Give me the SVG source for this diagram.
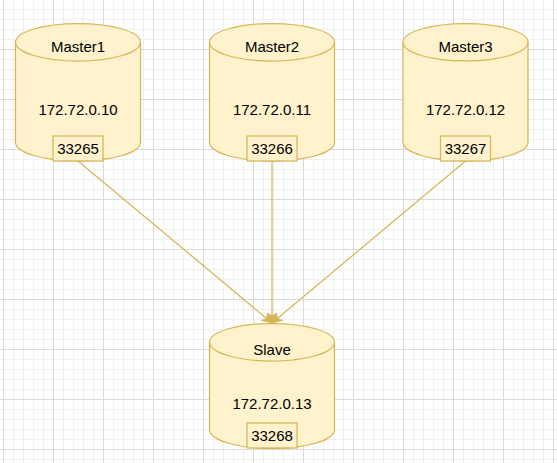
<svg xmlns="http://www.w3.org/2000/svg" width="557" height="463" viewBox="0 0 557 463">
  <defs>
    <pattern id="grid" x="3" y="-1" width="50" height="50" patternUnits="userSpaceOnUse">
      <rect x="10" y="0" width="1" height="50" fill="#f0f0f0"/>
      <rect x="20" y="0" width="1" height="50" fill="#f0f0f0"/>
      <rect x="30" y="0" width="1" height="50" fill="#f0f0f0"/>
      <rect x="40" y="0" width="1" height="50" fill="#f0f0f0"/>
      <rect x="0" y="10" width="50" height="1" fill="#f0f0f0"/>
      <rect x="0" y="20" width="50" height="1" fill="#f0f0f0"/>
      <rect x="0" y="30" width="50" height="1" fill="#f0f0f0"/>
      <rect x="0" y="40" width="50" height="1" fill="#f0f0f0"/>
      <rect x="0" y="0" width="1" height="50" fill="#dadada"/>
      <rect x="0" y="0" width="50" height="1" fill="#dadada"/>
    </pattern>
    <marker id="arrow" markerWidth="12" markerHeight="12" refX="0" refY="0" viewBox="-10 -6 12 12" orient="auto" markerUnits="userSpaceOnUse">
      <path d="M0,0 L-9.5,-4.5 L-7,0 L-9.5,4.5 Z" fill="#d6b656" stroke="#d6b656" stroke-width="1"/>
    </marker>
    <style>
      .cyl { fill: #fff2cc; stroke: #d6b656; stroke-width: 1.25; }
      .cyl-top { fill: none; stroke: #d6b656; stroke-width: 1.25; }
      .port { fill: #fff2cc; stroke: #d6b656; stroke-width: 1.25; }
      .t { font-family: "Liberation Sans", Arial, sans-serif; font-size: 15px; fill: #000; text-anchor: middle; }
      .edge { fill: none; stroke: #d6b656; stroke-width: 1.25; marker-end: url(#arrow); }
    </style>
  </defs>
  <rect x="0" y="0" width="557" height="463" fill="#ffffff"/>
  <rect x="0" y="0" width="557" height="463" fill="url(#grid)"/>

  <g id="connectors">
    <line class="edge" x1="78" y1="161" x2="272" y2="323"/>
    <line class="edge" x1="272" y1="161" x2="272" y2="323"/>
    <line class="edge" x1="465.5" y1="161" x2="272" y2="323"/>
  </g>

  <g id="master1">
    <path class="cyl" d="M15.5,42.25 A62.5,18.75 0 0 1 140.5,42.25 L140.5,142.25 A62.5,18.75 0 0 1 15.5,142.25 Z"/>
    <path class="cyl-top" d="M15.5,42.25 A62.5,18.75 0 0 0 140.5,42.25"/>
    <text class="t" x="78" y="51.5">Master1</text>
    <text class="t" x="78" y="115">172.72.0.10</text>
  </g>
  <g id="master1-port">
    <rect class="port" x="53" y="136" width="50" height="25"/>
    <text class="t" x="78" y="153.5">33265</text>
  </g>

  <g id="master2">
    <path class="cyl" d="M209.5,42.25 A62.5,18.75 0 0 1 334.5,42.25 L334.5,142.25 A62.5,18.75 0 0 1 209.5,142.25 Z"/>
    <path class="cyl-top" d="M209.5,42.25 A62.5,18.75 0 0 0 334.5,42.25"/>
    <text class="t" x="272" y="51.5">Master2</text>
    <text class="t" x="272" y="115">172.72.0.11</text>
  </g>
  <g id="master2-port">
    <rect class="port" x="247" y="136" width="50" height="25"/>
    <text class="t" x="272" y="153.5">33266</text>
  </g>

  <g id="master3">
    <path class="cyl" d="M403,42.25 A62.5,18.75 0 0 1 528,42.25 L528,142.25 A62.5,18.75 0 0 1 403,142.25 Z"/>
    <path class="cyl-top" d="M403,42.25 A62.5,18.75 0 0 0 528,42.25"/>
    <text class="t" x="465.5" y="51.5">Master3</text>
    <text class="t" x="465.5" y="115">172.72.0.12</text>
  </g>
  <g id="master3-port">
    <rect class="port" x="440.5" y="136" width="50" height="25"/>
    <text class="t" x="465.5" y="153.5">33267</text>
  </g>

  <g id="slave">
    <path class="cyl" d="M209.5,342.25 A62.5,18.75 0 0 1 334.5,342.25 L334.5,429.75 A62.5,18.75 0 0 1 209.5,429.75 Z"/>
    <path class="cyl-top" d="M209.5,342.25 A62.5,18.75 0 0 0 334.5,342.25"/>
    <text class="t" x="272" y="354.5">Slave</text>
    <text class="t" x="272" y="408.5">172.72.0.13</text>
  </g>
  <g id="slave-port">
    <rect class="port" x="247" y="423" width="50" height="25"/>
    <text class="t" x="272" y="440.5">33268</text>
  </g>
</svg>
